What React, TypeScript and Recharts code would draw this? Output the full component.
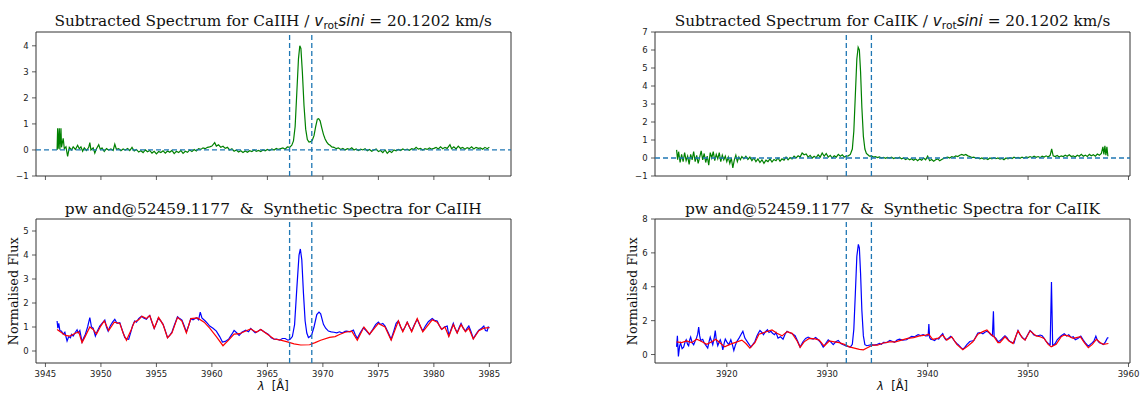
import React from 'react';
import { LineChart, Line, XAxis, YAxis, ReferenceLine, ReferenceArea } from 'recharts';

// ---------- Top-left: subtracted spectrum CaII H ----------
const hSubWl = [
  3946.05, 3946.1, 3946.15, 3946.25, 3946.3, 3946.4, 3946.45, 3946.6, 3946.7, 3946.85, 3947.0, 3947.15, 3947.35, 3947.5, 3947.7, 3947.9,
  3948.05, 3948.2, 3948.35, 3948.5, 3948.7, 3948.9, 3949.0, 3949.1, 3949.3, 3949.45, 3949.6, 3949.8, 3949.95, 3950.1, 3950.3, 3950.5,
  3950.7, 3950.9, 3951.1, 3951.25, 3951.4, 3951.6, 3951.8, 3952.0, 3952.2, 3952.4, 3952.6, 3952.8, 3953.0, 3953.2, 3953.4, 3953.6,
  3953.8, 3954.0, 3954.2, 3954.4, 3954.6, 3954.8, 3955.0, 3955.2, 3955.4, 3955.6, 3955.8, 3956.0, 3956.2, 3956.4, 3956.6, 3956.8,
  3957.0, 3957.2, 3957.4, 3957.6, 3957.8, 3958.0, 3958.2, 3958.4, 3958.6, 3958.8, 3959.0, 3959.2, 3959.4, 3959.6, 3959.8, 3960.0,
  3960.25, 3960.4, 3960.6, 3960.8, 3961.0, 3961.2, 3961.4, 3961.6, 3961.8, 3962.0, 3962.2, 3962.4, 3962.6, 3962.8, 3963.0, 3963.2,
  3963.4, 3963.6, 3963.8, 3964.0, 3964.2, 3964.4, 3964.6, 3964.8, 3965.0, 3965.2, 3965.4, 3965.6, 3965.8, 3966.0, 3966.2, 3966.4,
  3966.6, 3966.8, 3967.0, 3967.2, 3967.35, 3967.5, 3967.65, 3967.8, 3967.92, 3968.02, 3968.15, 3968.3, 3968.45, 3968.6, 3968.75, 3968.9,
  3969.05, 3969.2, 3969.35, 3969.5, 3969.62, 3969.75, 3969.9, 3970.05, 3970.2, 3970.35, 3970.5, 3970.65, 3970.8, 3971.0, 3971.2, 3971.4,
  3971.6, 3971.8, 3972.0, 3972.2, 3972.4, 3972.6, 3972.8, 3973.0, 3973.2, 3973.4, 3973.6, 3973.8, 3974.0, 3974.2, 3974.4, 3974.6,
  3974.8, 3975.0, 3975.2, 3975.4, 3975.6, 3975.8, 3976.0, 3976.2, 3976.4, 3976.6, 3976.8, 3977.0, 3977.2, 3977.4, 3977.6, 3977.8,
  3978.0, 3978.2, 3978.4, 3978.6, 3978.8, 3979.0, 3979.2, 3979.4, 3979.6, 3979.8, 3980.0, 3980.2, 3980.4, 3980.6, 3980.8, 3981.0,
  3981.2, 3981.45, 3981.6, 3981.8, 3982.0, 3982.2, 3982.4, 3982.6, 3982.8, 3983.0, 3983.2, 3983.4, 3983.6, 3983.8, 3984.0, 3984.2,
  3984.4, 3984.6, 3984.8, 3985.0,
];
const hSubFlux = [
  0.0, 0.83, 0.05, 0.83, 0.02, 0.83, 0.1, 0.45, 0.05, 0.12, -0.25, 0.1, 0.0, 0.12, 0.02, 0.18,
  0.05, 0.12, -0.05, 0.08, -0.02, 0.1, 0.28, 0.0, 0.08, -0.12, 0.05, 0.2, 0.02, 0.08, -0.06, 0.05,
  0.0, 0.04, -0.02, 0.22, 0.02, 0.05, -0.03, 0.04, 0.0, 0.06, -0.02, 0.1, -0.04, 0.02, -0.08, -0.03,
  -0.1, 0.0, -0.07, -0.02, -0.12, -0.05, -0.15, -0.06, -0.1, -0.03, -0.12, -0.04, -0.09, -0.02, -0.14, -0.05,
  -0.1, -0.02, -0.13, -0.05, -0.09, 0.0, -0.06, 0.02, -0.04, 0.05, 0.02, 0.08, 0.05, 0.1, 0.12, 0.15,
  0.28, 0.15, 0.2, 0.1, 0.14, 0.06, 0.1, 0.0, 0.05, -0.05, 0.0, -0.08, -0.03, -0.1, -0.04, -0.09,
  -0.03, -0.06, 0.0, -0.05, -0.02, -0.06, 0.0, -0.03, 0.02, -0.02, 0.04, 0.0, 0.06, 0.02, 0.05, 0.08,
  0.03, 0.12, 0.1, 0.18, 0.35, 0.9, 2.2, 3.5, 4.0, 3.9, 3.0, 1.7, 0.8, 0.4, 0.3, 0.32,
  0.38, 0.55, 0.9, 1.18, 1.2, 1.12, 0.85, 0.6, 0.42, 0.3, 0.22, 0.18, 0.12, 0.1, 0.05, 0.08,
  0.02, 0.06, 0.0, 0.05, 0.02, 0.08, 0.0, 0.04, -0.02, 0.03, 0.0, 0.05, -0.03, 0.02, -0.05, 0.0,
  0.04, -0.06, -0.02, -0.1, 0.0, -0.13, -0.04, -0.1, 0.0, -0.03, 0.02, -0.02, 0.04, 0.0, 0.03, -0.01,
  0.05, 0.02, 0.1, 0.03, 0.06, 0.0, 0.05, 0.02, 0.08, 0.03, 0.06, 0.1, 0.04, 0.12, 0.05, 0.1,
  0.06, 0.2, 0.05, 0.12, 0.04, 0.15, 0.06, 0.1, 0.03, 0.09, 0.05, 0.12, 0.04, 0.1, 0.06, 0.08,
  0.03, 0.1, 0.05, 0.1,
];

// ---------- Top-right: subtracted spectrum CaII K ----------
const kSubWl = [
  3915.0, 3915.1, 3915.2, 3915.35, 3915.5, 3915.65, 3915.8, 3915.95, 3916.1, 3916.25, 3916.4, 3916.55, 3916.7, 3916.85, 3917.0, 3917.15,
  3917.3, 3917.45, 3917.6, 3917.75, 3917.9, 3918.05, 3918.2, 3918.35, 3918.5, 3918.65, 3918.8, 3918.95, 3919.1, 3919.25, 3919.4, 3919.55,
  3919.7, 3919.85, 3920.0, 3920.15, 3920.3, 3920.45, 3920.6, 3920.75, 3920.9, 3921.05, 3921.2, 3921.35, 3921.5, 3921.7, 3921.9, 3922.1,
  3922.3, 3922.5, 3922.7, 3922.9, 3923.1, 3923.3, 3923.5, 3923.7, 3923.9, 3924.1, 3924.3, 3924.5, 3924.7, 3924.9, 3925.1, 3925.3,
  3925.5, 3925.7, 3925.9, 3926.1, 3926.3, 3926.5, 3926.7, 3926.9, 3927.1, 3927.3, 3927.5, 3927.7, 3927.9, 3928.1, 3928.3, 3928.5,
  3928.7, 3928.9, 3929.1, 3929.3, 3929.5, 3929.7, 3929.9, 3930.1, 3930.3, 3930.5, 3930.7, 3930.9, 3931.1, 3931.3, 3931.5, 3931.7,
  3931.9, 3932.1, 3932.3, 3932.5, 3932.65, 3932.8, 3932.95, 3933.08, 3933.2, 3933.32, 3933.45, 3933.6, 3933.75, 3933.9, 3934.05, 3934.2,
  3934.4, 3934.6, 3934.8, 3935.0, 3935.2, 3935.4, 3935.6, 3935.8, 3936.0, 3936.2, 3936.4, 3936.6, 3936.8, 3937.0, 3937.2, 3937.4,
  3937.6, 3937.8, 3938.0, 3938.2, 3938.4, 3938.6, 3938.8, 3939.0, 3939.2, 3939.4, 3939.6, 3939.8, 3940.0, 3940.2, 3940.4, 3940.6,
  3940.8, 3941.0, 3941.2, 3941.4, 3941.6, 3941.8, 3942.0, 3942.2, 3942.4, 3942.6, 3942.8, 3943.0, 3943.2, 3943.4, 3943.6, 3943.8,
  3944.0, 3944.2, 3944.4, 3944.6, 3944.8, 3945.0, 3945.2, 3945.4, 3945.6, 3945.8, 3946.0, 3946.2, 3946.4, 3946.6, 3946.8, 3947.0,
  3947.2, 3947.4, 3947.6, 3947.8, 3948.0, 3948.2, 3948.4, 3948.6, 3948.8, 3949.0, 3949.2, 3949.4, 3949.6, 3949.8, 3950.0, 3950.2,
  3950.4, 3950.6, 3950.8, 3951.0, 3951.2, 3951.4, 3951.6, 3951.8, 3952.0, 3952.2, 3952.35, 3952.5, 3952.7, 3952.9, 3953.1, 3953.3,
  3953.5, 3953.7, 3953.9, 3954.1, 3954.3, 3954.5, 3954.7, 3954.9, 3955.1, 3955.3, 3955.5, 3955.7, 3955.9, 3956.1, 3956.3, 3956.5,
  3956.7, 3956.9, 3957.1, 3957.3, 3957.45, 3957.55, 3957.65, 3957.75, 3957.85, 3957.95,
];
const kSubFlux = [
  0.45, -0.1, 0.35, -0.25, 0.2, -0.2, 0.3, -0.15, 0.1, -0.35, 0.2, -0.1, 0.35, -0.2, 0.15, -0.3,
  0.05, 0.4, -0.1, 0.25, -0.25, 0.1, -0.4, 0.3, 0.0, 0.35, -0.15, 0.2, -0.05, 0.3, -0.2, 0.15,
  -0.1, 0.1, -0.2, 0.05, -0.3, 0.0, -0.55, -0.1, 0.15, -0.2, 0.05, -0.1, 0.08, -0.05, 0.1, -0.08,
  0.05, -0.15, 0.0, -0.2, -0.05, -0.25, -0.1, -0.3, -0.12, -0.2, -0.05, -0.22, -0.08, -0.15, 0.0, -0.18,
  -0.05, -0.12, 0.05, -0.1, 0.02, -0.05, 0.1, 0.0, 0.12, 0.05, 0.28, 0.18, 0.22, 0.05, 0.15, 0.0,
  0.1, 0.02, 0.18, 0.05, 0.28, 0.1, 0.25, 0.05, 0.15, 0.0, 0.12, 0.05, 0.2, 0.1, 0.18, 0.05,
  0.1, 0.12, 0.2, 0.5, 1.5, 3.5, 5.5, 6.15, 6.0, 4.8, 2.8, 1.2, 0.5, 0.25, 0.18, 0.1,
  0.12, 0.05, 0.08, 0.02, 0.06, 0.0, 0.04, -0.02, 0.03, 0.0, 0.05, -0.03, 0.02, -0.02, 0.04, -0.05,
  0.0, -0.08, -0.02, -0.1, -0.04, -0.12, -0.05, -0.15, -0.06, -0.12, 0.0, -0.1, 0.1, -0.15, -0.08, -0.18,
  -0.1, -0.05, -0.15, -0.08, -0.02, 0.02, 0.05, 0.0, 0.08, 0.04, 0.12, 0.08, 0.15, 0.2, 0.15, 0.2,
  0.12, 0.08, 0.02, 0.05, -0.02, 0.02, -0.05, 0.0, -0.06, -0.02, -0.08, 0.0, -0.05, 0.02, -0.04, 0.0,
  -0.06, -0.02, -0.1, 0.0, -0.05, 0.02, -0.03, 0.04, 0.0, 0.03, -0.02, 0.05, 0.0, 0.06, 0.02, 0.08,
  0.03, 0.1, 0.04, 0.08, 0.02, 0.1, 0.05, 0.12, 0.06, 0.15, 0.5, 0.12, 0.08, 0.14, 0.06, 0.12,
  0.08, 0.15, 0.1, 0.18, 0.08, 0.12, 0.06, 0.15, 0.1, 0.2, 0.1, 0.16, 0.08, 0.2, 0.12, 0.18,
  0.1, 0.22, 0.15, 0.25, 0.62, 0.2, 0.68, 0.15, 0.62, 0.1,
];

// ---------- Bottom-left: observed (blue) & synthetic (red), CaII H ----------
const hObsWl = [
  3946.05, 3946.12, 3946.2, 3946.3, 3946.45, 3946.6, 3946.75, 3946.95, 3947.1, 3947.25, 3947.35, 3947.5, 3947.7, 3947.85, 3947.95, 3948.1,
  3948.3, 3948.45, 3948.6, 3948.8, 3949.0, 3949.15, 3949.3, 3949.5, 3949.65, 3949.9, 3950.1, 3950.35, 3950.5, 3950.65, 3950.85, 3951.05,
  3951.25, 3951.45, 3951.7, 3951.9, 3952.15, 3952.35, 3952.5, 3952.7, 3952.85, 3953.05, 3953.2, 3953.4, 3953.65, 3953.85, 3954.1, 3954.25,
  3954.4, 3954.6, 3954.8, 3955.0, 3955.15, 3955.35, 3955.6, 3955.8, 3956.0, 3956.2, 3956.4, 3956.6, 3956.9, 3957.1, 3957.3, 3957.5,
  3957.7, 3957.9, 3958.1, 3958.3, 3958.6, 3958.8, 3958.95, 3959.1, 3959.4, 3959.6, 3959.8, 3960.1, 3960.4, 3960.7, 3960.95, 3961.2,
  3961.5, 3961.8, 3962.0, 3962.25, 3962.45, 3962.7, 3963.05, 3963.3, 3963.5, 3963.7, 3963.9, 3964.15, 3964.4, 3964.7, 3965.1, 3965.35,
  3965.6, 3965.85, 3966.1, 3966.35, 3966.6, 3966.85, 3967.05, 3967.25, 3967.45, 3967.65, 3967.85, 3967.97, 3968.1, 3968.25, 3968.4, 3968.55,
  3968.7, 3968.85, 3969.0, 3969.2, 3969.45, 3969.65, 3969.8, 3970.05, 3970.25, 3970.5, 3970.75, 3971.0, 3971.25, 3971.5, 3971.75, 3972.0,
  3972.15, 3972.45, 3972.75, 3972.9, 3973.1, 3973.35, 3973.65, 3973.9, 3974.2, 3974.5, 3974.75, 3975.0, 3975.2, 3975.4, 3975.6, 3975.85,
  3976.15, 3976.4, 3976.6, 3976.8, 3977.0, 3977.2, 3977.4, 3977.6, 3977.8, 3978.0, 3978.25, 3978.5, 3978.75, 3979.0, 3979.25, 3979.5,
  3979.85, 3980.05, 3980.3, 3980.5, 3980.7, 3980.95, 3981.2, 3981.35, 3981.55, 3981.75, 3981.9, 3982.1, 3982.3, 3982.45, 3982.65, 3982.85,
  3983.0, 3983.15, 3983.35, 3983.55, 3983.8, 3984.05, 3984.3, 3984.5, 3984.65, 3984.8, 3984.9, 3985.0,
];
const hObsFlux = [
  1.25, 0.95, 1.15, 0.85, 0.82, 0.7, 0.78, 0.42, 0.6, 0.55, 0.69, 0.62, 0.78, 0.88, 0.75, 0.85,
  0.38, 0.55, 0.7, 1.0, 1.39, 1.0, 0.95, 0.62, 0.8, 1.04, 1.15, 1.29, 1.0, 0.83, 1.05, 1.2,
  1.32, 1.15, 1.18, 0.9, 0.56, 0.5, 0.49, 0.8, 1.05, 1.25, 1.2, 1.35, 1.45, 1.38, 1.32, 1.42,
  1.48, 1.2, 0.94, 1.15, 1.35, 1.28, 1.11, 0.85, 0.56, 0.65, 0.79, 1.05, 1.43, 1.35, 1.29, 1.05,
  0.79, 1.05, 1.35, 1.3, 1.39, 1.3, 1.62, 1.38, 1.25, 1.15, 1.04, 0.95, 0.83, 0.6, 0.37, 0.4,
  0.49, 0.7, 0.86, 0.75, 0.65, 0.78, 0.87, 0.8, 0.94, 0.85, 0.76, 0.82, 0.9, 0.8, 0.69, 0.55,
  0.49, 0.5, 0.45, 0.52, 0.52, 0.45, 0.49, 0.6, 1.1, 2.6, 4.0, 4.25, 3.8, 2.4, 1.25, 0.75,
  0.56, 0.6, 0.69, 1.0, 1.52, 1.62, 1.55, 1.11, 0.95, 0.83, 0.8, 0.78, 0.76, 0.8, 0.75, 0.82,
  0.83, 0.8, 0.87, 0.7, 0.52, 0.75, 0.97, 0.85, 0.69, 0.9, 1.1, 1.2, 1.1, 1.15, 1.04, 0.8,
  0.49, 0.85, 1.15, 1.25, 1.0, 0.83, 1.0, 1.2, 1.0, 0.83, 1.1, 1.32, 1.05, 0.83, 1.05, 1.22,
  1.35, 1.28, 1.25, 1.05, 0.9, 1.0, 1.04, 0.65, 0.9, 1.15, 0.95, 0.76, 1.0, 1.15, 0.95, 0.83,
  0.95, 1.04, 0.8, 0.52, 0.7, 0.87, 0.95, 1.04, 0.85, 0.83, 1.0, 0.97,
];
const hSynWl = [
  3946.05, 3946.4, 3946.8, 3947.2, 3947.6, 3948.0, 3948.3, 3948.6, 3949.0, 3949.3, 3949.6, 3950.0, 3950.3, 3950.7, 3951.2, 3951.7,
  3952.0, 3952.3, 3952.7, 3953.0, 3953.4, 3953.7, 3954.1, 3954.4, 3954.8, 3955.2, 3955.6, 3956.0, 3956.4, 3956.9, 3957.3, 3957.7,
  3958.1, 3958.7, 3959.3, 3959.8, 3960.4, 3961.0, 3961.5, 3962.0, 3962.5, 3963.0, 3963.5, 3964.0, 3964.4, 3965.0, 3965.6, 3966.2,
  3966.8, 3967.4, 3968.0, 3968.8, 3969.3, 3969.8, 3970.6, 3971.1, 3971.5, 3972.0, 3972.6, 3973.1, 3973.7, 3974.2, 3975.0, 3975.6,
  3976.15, 3976.8, 3977.2, 3977.6, 3978.0, 3978.5, 3979.0, 3979.85, 3980.3, 3980.7, 3981.0, 3981.35, 3981.75, 3982.1, 3982.45, 3982.85,
  3983.15, 3983.55, 3984.05, 3984.5, 3985.0,
];
const hSynFlux = [
  0.9, 0.78, 0.65, 0.62, 0.72, 0.8, 0.35, 0.62, 1.0, 0.9, 0.7, 1.05, 1.25, 0.85, 1.2, 1.15,
  0.75, 0.45, 0.85, 1.2, 1.3, 1.45, 1.35, 1.48, 0.95, 1.4, 1.1, 0.55, 0.75, 1.4, 1.25, 0.75,
  1.35, 1.38, 1.2, 0.95, 0.6, 0.22, 0.45, 0.7, 0.72, 0.82, 0.92, 0.78, 0.9, 0.7, 0.5, 0.45,
  0.38, 0.3, 0.25, 0.26, 0.35, 0.45, 0.57, 0.6, 0.69, 0.78, 0.83, 0.45, 1.0, 0.7, 1.15, 1.0,
  0.45, 1.25, 0.8, 1.2, 0.8, 1.35, 0.8, 1.3, 1.2, 0.9, 1.0, 0.6, 1.1, 0.75, 1.1, 0.8,
  0.95, 0.5, 0.85, 0.95, 0.97,
];

// ---------- Bottom-right: observed (blue) & synthetic (red), CaII K ----------
const kObsWl = [
  3915.0, 3915.08, 3915.18, 3915.3, 3915.4, 3915.55, 3915.7, 3915.85, 3915.96, 3916.1, 3916.2, 3916.3, 3916.4, 3916.55, 3916.7, 3916.85,
  3916.95, 3917.1, 3917.2, 3917.3, 3917.4, 3917.6, 3917.75, 3917.9, 3918.1, 3918.25, 3918.35, 3918.5, 3918.6, 3918.75, 3918.85, 3918.95,
  3919.1, 3919.25, 3919.35, 3919.5, 3919.6, 3919.75, 3919.85, 3920.0, 3920.2, 3920.4, 3920.55, 3920.7, 3920.85, 3921.0, 3921.2, 3921.4,
  3921.6, 3921.8, 3922.1, 3922.4, 3922.6, 3922.8, 3923.0, 3923.15, 3923.3, 3923.5, 3923.65, 3923.85, 3924.05, 3924.2, 3924.4, 3924.55,
  3924.75, 3924.9, 3925.1, 3925.35, 3925.6, 3925.8, 3926.0, 3926.2, 3926.35, 3926.6, 3926.8, 3927.05, 3927.3, 3927.45, 3927.6, 3927.85,
  3928.1, 3928.35, 3928.6, 3928.85, 3929.1, 3929.35, 3929.6, 3929.85, 3930.1, 3930.35, 3930.6, 3930.85, 3931.1, 3931.35, 3931.6, 3931.95,
  3932.3, 3932.5, 3932.65, 3932.8, 3932.95, 3933.1, 3933.2, 3933.32, 3933.45, 3933.6, 3933.75, 3933.95, 3934.15, 3934.4, 3934.65, 3934.9,
  3935.2, 3935.4, 3935.6, 3935.9, 3936.24, 3936.45, 3936.7, 3936.95, 3937.2, 3937.5, 3937.9, 3938.15, 3938.4, 3938.7, 3939.05, 3939.3,
  3939.55, 3939.8, 3940.05, 3940.12, 3940.2, 3940.3, 3940.5, 3940.7, 3940.9, 3941.1, 3941.3, 3941.5, 3941.65, 3941.8, 3942.05, 3942.3,
  3942.5, 3942.7, 3942.9, 3943.05, 3943.3, 3943.5, 3943.7, 3943.9, 3944.2, 3944.4, 3944.6, 3944.8, 3945.0, 3945.25, 3945.5, 3945.7,
  3945.9, 3946.1, 3946.3, 3946.45, 3946.55, 3946.62, 3946.8, 3947.0, 3947.15, 3947.3, 3947.5, 3947.7, 3947.9, 3948.05, 3948.2, 3948.4,
  3948.6, 3948.8, 3949.0, 3949.2, 3949.45, 3949.7, 3949.95, 3950.2, 3950.4, 3950.55, 3950.8, 3951.0, 3951.2, 3951.4, 3951.6, 3951.8,
  3952.0, 3952.2, 3952.33, 3952.45, 3952.7, 3952.9, 3953.1, 3953.3, 3953.45, 3953.6, 3953.85, 3954.05, 3954.3, 3954.5, 3954.7, 3954.95,
  3955.25, 3955.5, 3955.75, 3956.0, 3956.2, 3956.4, 3956.55, 3956.75, 3956.9, 3957.1, 3957.3, 3957.5, 3957.7, 3957.9, 3958.0,
];
const kObsFlux = [
  0.45, 1.11, -0.11, 0.5, 0.68, 0.35, 0.44, 0.75, 0.87, 0.6, 0.52, 0.85, 1.03, 0.7, 0.58, 0.8,
  0.91, 1.2, 1.62, 1.1, 0.83, 0.9, 0.68, 0.55, 0.38, 0.8, 1.03, 0.75, 0.58, 1.0, 1.42, 0.9,
  0.52, 0.75, 0.87, 0.6, 0.28, 0.7, 0.91, 0.75, 0.58, 0.87, 0.6, 0.24, 0.55, 0.77, 0.95, 1.17,
  1.37, 0.97, 0.7, 0.44, 0.6, 0.77, 1.1, 1.27, 1.42, 1.3, 1.17, 1.35, 1.46, 1.3, 1.37, 1.25,
  1.17, 1.3, 0.97, 1.05, 0.91, 1.2, 1.37, 1.3, 1.27, 1.2, 1.11, 0.8, 0.44, 0.6, 0.77, 0.95,
  1.03, 0.95, 0.91, 1.0, 0.87, 0.7, 0.44, 0.65, 0.87, 0.75, 0.58, 0.75, 0.83, 0.65, 0.58, 0.5,
  0.44, 0.6, 1.5, 3.6, 5.8, 6.5, 6.3, 4.8, 2.6, 1.1, 0.58, 0.52, 0.55, 0.58, 0.55, 0.58,
  0.65, 0.6, 0.72, 0.7, 0.83, 0.78, 0.72, 0.85, 0.91, 0.85, 0.87, 0.98, 1.07, 1.05, 1.17, 1.12,
  1.17, 1.1, 1.11, 1.8, 1.0, 0.91, 0.88, 0.83, 0.95, 0.91, 1.1, 1.23, 1.0, 0.87, 0.95, 1.07,
  0.95, 0.77, 0.65, 0.58, 0.42, 0.32, 0.42, 0.58, 0.77, 0.8, 0.83, 1.05, 1.27, 1.3, 1.23, 1.32,
  1.37, 1.3, 1.17, 1.1, 2.55, 1.05, 0.95, 0.77, 0.8, 0.87, 1.0, 1.11, 1.0, 0.85, 0.77, 0.72,
  0.68, 1.1, 1.42, 1.17, 1.0, 0.87, 1.15, 1.42, 1.3, 1.17, 1.12, 1.11, 1.15, 1.11, 0.95, 0.77,
  0.65, 0.58, 4.28, 0.52, 0.65, 0.87, 1.0, 1.11, 1.17, 1.23, 1.1, 1.17, 1.0, 1.05, 0.88, 0.95,
  1.08, 0.85, 0.65, 0.49, 0.6, 0.7, 0.79, 1.08, 0.85, 0.69, 0.65, 0.59, 0.75, 0.98, 1.0,
];
const kSynWl = [
  3915.0, 3915.5, 3916.0, 3916.5, 3917.0, 3917.4, 3918.0, 3918.5, 3918.9, 3919.4, 3919.8, 3920.3, 3920.8, 3921.5, 3921.9, 3922.3,
  3922.8, 3923.2, 3923.7, 3924.5, 3925.0, 3925.5, 3926.0, 3926.5, 3927.0, 3927.3, 3927.7, 3928.2, 3928.8, 3929.2, 3929.7, 3930.2,
  3930.7, 3931.2, 3931.7, 3932.2, 3932.7, 3933.2, 3933.6, 3934.0, 3934.5, 3935.0, 3935.6, 3936.2, 3936.8, 3937.4, 3938.0, 3938.6,
  3939.2, 3939.8, 3940.1, 3940.5, 3941.0, 3941.5, 3941.9, 3942.4, 3942.9, 3943.5, 3944.0, 3944.5, 3945.0, 3945.5, 3945.9, 3946.3,
  3946.6, 3947.0, 3947.2, 3947.7, 3948.1, 3948.5, 3949.0, 3949.4, 3949.7, 3950.2, 3950.8, 3951.2, 3951.6, 3952.0, 3952.3, 3952.8,
  3953.3, 3953.6, 3954.0, 3954.5, 3955.2, 3955.6, 3956.0, 3956.4, 3956.8, 3957.2, 3957.5, 3958.0,
];
const kSynFlux = [
  0.75, 0.7, 0.8, 0.7, 0.9, 0.8, 0.6, 0.75, 0.9, 0.65, 0.45, 0.6, 0.7, 0.85, 0.65, 0.38,
  0.7, 1.2, 1.3, 1.45, 1.25, 1.1, 1.35, 1.25, 0.8, 0.42, 0.75, 0.95, 0.92, 0.85, 0.5, 0.8,
  0.75, 0.7, 0.6, 0.45, 0.38, 0.3, 0.28, 0.4, 0.55, 0.55, 0.68, 0.75, 0.75, 0.85, 0.95, 1.0,
  1.1, 1.15, 1.2, 0.9, 0.95, 1.15, 0.85, 1.05, 0.6, 0.28, 0.5, 0.75, 1.2, 1.35, 1.45, 1.2,
  1.05, 0.7, 0.7, 1.05, 0.8, 0.65, 1.4, 1.0, 0.85, 1.4, 1.1, 1.05, 0.95, 0.6, 0.45, 0.6,
  1.05, 1.15, 1.1, 0.95, 1.05, 0.7, 0.4, 0.6, 0.9, 0.7, 0.6, 0.65,
];

// ---------- Axes ----------
const hTicksX = [3945, 3950, 3955, 3960, 3965, 3970, 3975, 3980, 3985];
const kTicksX = [3920, 3930, 3940, 3950, 3960];
const hSubTicksY = [-1, 0, 1, 2, 3, 4];
const kSubTicksY = [-1, 0, 1, 2, 3, 4, 5, 6, 7];
const hObsTicksY = [0, 1, 2, 3, 4, 5];
const kObsTicksY = [0, 2, 4, 6, 8];
const hLines = [3967.0, 3969.0];
const kLines = [3931.9, 3934.4];

const toPts = (wl: number[], fl: number[]) => wl.map((x, i) => ({ x, y: fl[i] }));

const DASH = '#1f77b4';
const TICK_FONT = { fontFamily: 'DejaVu Sans', fontSize: 8.5, fill: '#222' };

type Series = { wl: number[]; fl: number[]; color: string };
type PanelProps = {
  left: number; top: number; w: number; h: number;
  xDomain: [number, number]; yDomain: [number, number];
  xTicks: number[]; yTicks: number[]; xLabels: boolean;
  series: Series[]; vlines: number[]; zeroLine: boolean;
};

const YW = 40;
const XH = 22;
const MT = 8;
const MR = 11;

function Panel(p: PanelProps) {
  const fmtY = (v: number) => String(v).replace('-', '\u2212');
  return (
    <div style={{ position: 'absolute', left: p.left - YW, top: p.top - MT }}>
      <LineChart width={p.w + YW + MR} height={p.h + XH + MT} margin={{ top: MT, right: MR, bottom: 0, left: 0 }}>
        <XAxis
          type="number" dataKey="x" domain={p.xDomain} ticks={p.xTicks} allowDataOverflow interval={0}
          height={XH} axisLine={false} tickSize={4} tickMargin={3.5}
          tickLine={{ stroke: '#333', strokeWidth: 0.8 }} tick={TICK_FONT}
          tickFormatter={(v: number) => (p.xLabels ? String(v) : '')}
        />
        <YAxis
          type="number" dataKey="y" domain={p.yDomain} ticks={p.yTicks} allowDataOverflow interval={0}
          width={YW} axisLine={false} tickSize={4} tickMargin={3.4}
          tickLine={{ stroke: '#333', strokeWidth: 0.8 }} tick={TICK_FONT} tickFormatter={fmtY}
        />
        {p.series.map((s, i) => (
          <Line key={i} data={toPts(s.wl, s.fl)} dataKey="y" type="linear" stroke={s.color}
            strokeWidth={1.2} dot={false} activeDot={false} isAnimationActive={false} />
        ))}
        {p.zeroLine && (
          <ReferenceLine y={0} stroke={DASH} strokeWidth={1.3} strokeDasharray="5 3" />
        )}
        {p.vlines.map((v) => (
          <ReferenceLine key={v} x={v} stroke={DASH} strokeWidth={1.3} strokeDasharray="5 3" />
        ))}
        <ReferenceArea x1={p.xDomain[0]} x2={p.xDomain[1]} y1={p.yDomain[0]} y2={p.yDomain[1]}
          fill="none" stroke="#333" strokeWidth={1} />
      </LineChart>
    </div>
  );
}

const SERIF = 'DejaVu Serif';
const SANS = 'DejaVu Sans';

export default function App() {
  const L1 = 35.7, L2 = 655, W = 475;
  const T1 = 32.3, T2 = 219.3, H = 144;
  const hX: [number, number] = [3944.15, 3986.95];
  const kX: [number, number] = [3912.85, 3960.15];
  const c1 = L1 + W / 2, c2 = L2 + W / 2;
  return (
    <div style={{ position: 'absolute', left: 0, top: 0, width: 1142, height: 394, background: '#fff' }}>
      <Panel left={L1} top={T1} w={W} h={H} xDomain={hX} yDomain={[-1, 4.53]} xTicks={hTicksX} yTicks={hSubTicksY}
        xLabels={false} series={[{ wl: hSubWl, fl: hSubFlux, color: 'green' }]} vlines={hLines} zeroLine />
      <Panel left={L2} top={T1} w={W} h={H} xDomain={kX} yDomain={[-1, 7]} xTicks={kTicksX} yTicks={kSubTicksY}
        xLabels={false} series={[{ wl: kSubWl, fl: kSubFlux, color: 'green' }]} vlines={kLines} zeroLine />
      <Panel left={L1} top={T2} w={W} h={H} xDomain={hX} yDomain={[-0.5, 5.5]} xTicks={hTicksX} yTicks={hObsTicksY}
        xLabels series={[{ wl: hObsWl, fl: hObsFlux, color: 'blue' }, { wl: hSynWl, fl: hSynFlux, color: 'red' }]}
        vlines={hLines} zeroLine={false} />
      <Panel left={L2} top={T2} w={W} h={H} xDomain={kX} yDomain={[-0.5, 8]} xTicks={kTicksX} yTicks={kObsTicksY}
        xLabels series={[{ wl: kObsWl, fl: kObsFlux, color: 'blue' }, { wl: kSynWl, fl: kSynFlux, color: 'red' }]}
        vlines={kLines} zeroLine={false} />
      <svg width={1142} height={394} style={{ position: 'absolute', left: 0, top: 0, pointerEvents: 'none' }}>
        {[{ c: c1, el: 'CaIIH' }, { c: c2, el: 'CaIIK' }].map((t) => (
          <text key={t.el} x={t.c} y={26} textAnchor="middle" fontFamily={SERIF} fontSize={15.3} fill="#111" style={{ whiteSpace: 'pre' }}>
            {`Subtracted Spectrum for ${t.el} / `}
            <tspan fontFamily={SANS} fontStyle="italic">v</tspan>
            <tspan fontFamily={SANS} fontSize={10.7} dy={3}>rot</tspan>
            <tspan fontFamily={SANS} fontStyle="italic" dy={-3}>sini</tspan>
            <tspan>{' = 20.1202 km/s'}</tspan>
          </text>
        ))}
        {[{ c: c1, el: 'CaIIH' }, { c: c2, el: 'CaIIK' }].map((t) => (
          <text key={'b' + t.el} x={t.c} y={214} textAnchor="middle" fontFamily={SERIF} fontSize={15.4} fill="#111" style={{ whiteSpace: 'pre' }}>
            {`pw and@52459.1177  &  Synthetic Spectra for ${t.el}`}
          </text>
        ))}
        {[L1, L2].map((l) => (
          <text key={'y' + l} transform={`translate(${l - 18},${T2 + H / 2}) rotate(-90)`} textAnchor="middle"
            fontFamily={SERIF} fontSize={12.8} fill="#111">Normalised Flux</text>
        ))}
        {[c1, c2].map((c) => (
          <text key={'x' + c} x={c} y={390} textAnchor="middle" fontFamily={SANS} fontSize={11.5} fill="#111" style={{ whiteSpace: 'pre' }}>
            <tspan fontStyle="italic">λ</tspan>
            <tspan>{'  [Å]'}</tspan>
          </text>
        ))}
      </svg>
    </div>
  );
}
